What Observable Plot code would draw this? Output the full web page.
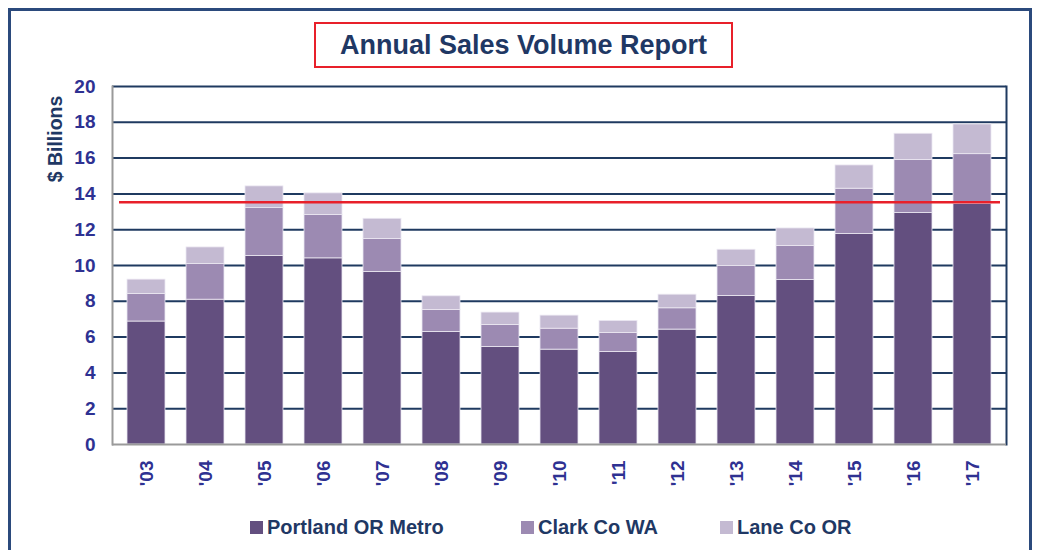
<!DOCTYPE html>
<html><head><meta charset="utf-8">
<script src="https://cdn.jsdelivr.net/npm/d3@7"></script>
<script src="https://cdn.jsdelivr.net/npm/@observablehq/plot@0.6"></script>
<style>
body{margin:0;background:#fff;font-family:"Liberation Sans",Arial,sans-serif;}
#wrap{position:relative;width:1038px;height:550px;overflow:hidden;background:#fff;}
#chart{position:absolute;left:0;top:0;}
#chart svg g[aria-label="y-axis tick label"] text, #chart svg g[aria-label="x-axis tick label"] text{font-size:19px;font-weight:bold;}
#frame{position:absolute;left:8px;top:8px;width:1024px;height:620px;border:3px solid #2b4a7c;box-sizing:border-box;pointer-events:none;}
#title{position:absolute;left:314px;top:22px;width:419px;height:46px;border:2px solid #e8202a;box-sizing:border-box;
  color:#1f3864;font-weight:bold;font-size:27px;text-align:center;line-height:42px;}
#ylabel{position:absolute;left:55px;top:139px;transform:translate(-50%,-50%) rotate(-90deg);white-space:nowrap;
  color:#1f3864;font-weight:bold;font-size:19.5px;}
.leg{position:absolute;top:515px;height:24px;display:flex;align-items:center;color:#1f3864;font-weight:bold;font-size:20px;white-space:nowrap;}
.leg span.sw{display:inline-block;width:13px;height:13px;margin-right:4px;}
</style></head>
<body>
<div id="wrap">
  <div id="chart"></div>
  <div id="title"></div>
  <div id="ylabel"></div>
  <div id="legend"></div>
  <div id="frame"></div>
</div>
<script>
const chartTitle = "Annual Sales Volume Report";
const yLabel = "$ Billions";
const years = ["'03","'04","'05","'06","'07","'08","'09","'10","'11","'12","'13","'14","'15","'16","'17"];
const seriesNames = ["Portland OR Metro","Clark Co WA","Lane Co OR"];
const seriesColors = ["#634f7f","#9c8ab2","#c4bad2"];
const portland = [6.87,8.09,10.53,10.40,9.64,6.29,5.45,5.30,5.17,6.42,8.30,9.19,11.76,12.93,13.45];
const clark    = [1.54,1.99,2.68,2.42,1.84,1.23,1.23,1.17,1.06,1.19,1.67,1.90,2.53,2.96,2.77];
const lane     = [0.80,0.93,1.21,1.21,1.13,0.76,0.69,0.73,0.67,0.76,0.91,0.98,1.30,1.47,1.66];
const yTicks = [0,2,4,6,8,10,12,14,16,18,20];
const referenceLine = 13.53;
const legendLefts = [250,521,720];

const seriesValues = [portland, clark, lane];
const rows = [];
years.forEach((yr, i) => {
  seriesNames.forEach((s, j) => rows.push({year: yr, series: s, value: seriesValues[j][i]}));
});

document.getElementById("title").textContent = chartTitle;
document.getElementById("ylabel").textContent = yLabel;
const leg = document.getElementById("legend");
seriesNames.forEach((s, j) => {
  const d = document.createElement("div");
  d.className = "leg";
  d.style.left = legendLefts[j] + "px";
  d.innerHTML = `<span class="sw" style="background:${seriesColors[j]}"></span>`;
  d.appendChild(document.createTextNode(s));
  leg.appendChild(d);
});

const plot = Plot.plot({
  width: 1038,
  height: 510,
  marginLeft: 112,
  marginRight: 32,
  marginTop: 86,
  marginBottom: 66,
  style: {background: "transparent", fontFamily: "'Liberation Sans', Arial, sans-serif", fontSize: "19px", fontWeight: "bold"},
  x: {domain: years, paddingInner: 0.355, paddingOuter: 0.1775},
  y: {domain: [0, 20]},
  color: {domain: seriesNames, range: seriesColors},
  marks: [
    Plot.ruleY(yTicks.filter(d => d > 0), {stroke: "#1f3a60", strokeWidth: 2}),
    Plot.barY(rows, {x: "year", y: "value", fill: "series", stroke: "#ece8f2", strokeWidth: 0.8}),
    Plot.ruleY([referenceLine], {stroke: "#e8202a", strokeWidth: 2.5, insetLeft: 7, insetRight: 6}),
    Plot.frame({anchor: "right", stroke: "#1f3a60", strokeWidth: 2}),
    Plot.frame({anchor: "left", stroke: "#9a9a9a", strokeWidth: 2}),
    Plot.ruleY([0], {stroke: "#9a9a9a", strokeWidth: 2}),
    Plot.axisY({ticks: yTicks, tickSize: 0, tickPadding: 17, fontSize: 19, fontWeight: "bold", fill: "#2e3192", label: null}),
    Plot.axisX({tickRotate: -90, tickSize: 0, tickPadding: 16, fontSize: 19, fontWeight: "bold", fill: "#2e3192", label: null})
  ]
});
document.getElementById("chart").appendChild(plot);
</script>
</body></html>
